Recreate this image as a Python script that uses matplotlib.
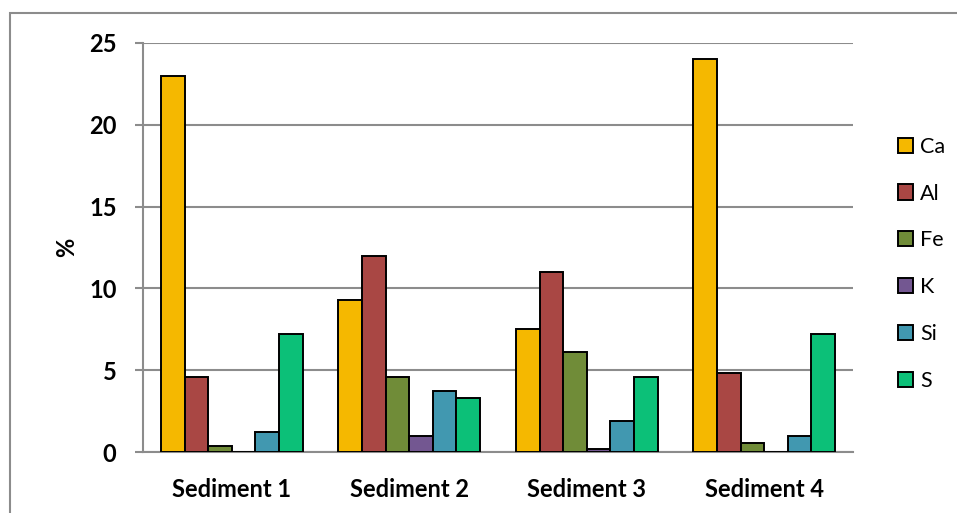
import matplotlib
matplotlib.use("Agg")
import matplotlib.pyplot as plt
import numpy as np
from matplotlib.patches import Rectangle

categories = ["Sediment 1", "Sediment 2", "Sediment 3", "Sediment 4"]
elements = ["Ca", "Al", "Fe", "K", "Si", "S"]
ca = [23.0, 9.3, 7.5, 24.0]
al = [4.6, 12.0, 11.0, 4.8]
fe = [0.35, 4.6, 6.1, 0.55]
k = [0.0, 1.0, 0.2, 0.0]
si = [1.2, 3.7, 1.9, 1.0]
s = [7.2, 3.3, 4.6, 7.2]
yticks = [0, 5, 10, 15, 20, 25]

series = [ca, al, fe, k, si, s]
colors = ["#F5B800", "#A94744", "#708C38", "#735791", "#4198B0", "#0CC078"]

plt.rcParams["font.family"] = ["Lato", "DejaVu Sans"]

fig = plt.figure(figsize=(9.57, 5.13), dpi=100)
ax = fig.add_axes([143 / 957, 1 - 452 / 513, 710 / 957, 409 / 513])

# outer chart frame
fig.patches.append(Rectangle((10 / 957, -0.1), 1.2, 1 - 13 / 513 + 0.1,
                             transform=fig.transFigure, fill=False,
                             edgecolor="#8C8C8C", linewidth=1.5, zorder=0))

x = np.arange(len(categories))
width = 0.133
for i, (vals, col) in enumerate(zip(series, colors)):
    offs = (i - 2.5) * width
    ax.bar(x + offs, vals, width=width, color=col, edgecolor="black",
           linewidth=1.4, label=elements[i], zorder=3)

ax.set_xlim(-0.5, 3.5)
ax.set_ylim(0, 25)
ax.set_yticks(yticks)
ax.set_yticklabels([str(t) for t in yticks], fontsize=17, fontweight="bold")
ax.set_xticks(x)
ax.set_xticklabels(categories, fontsize=17, fontweight="bold")
ax.tick_params(axis="x", length=0, pad=19)
ax.tick_params(axis="y", length=6, width=1.5, color="#8C8C8C", pad=13)
ax.yaxis.grid(True, color="#8C8C8C", linewidth=1.5, zorder=0)
ax.set_axisbelow(True)
for side in ["top", "right"]:
    ax.spines[side].set_visible(False)
for side in ["left", "bottom"]:
    ax.spines[side].set_color("#8C8C8C")
    ax.spines[side].set_linewidth(1.5)
ax.set_ylabel("%", fontsize=17, fontweight="bold", labelpad=8)

leg = fig.legend(loc="upper left", bbox_to_anchor=(889 / 957, 1 - 128 / 513),
                 frameon=False, fontsize=15.5, handlelength=0.7,
                 handleheight=0.7, handletextpad=0.35, labelspacing=1.25,
                 borderaxespad=0)

fig.savefig("out.png", dpi=100)
